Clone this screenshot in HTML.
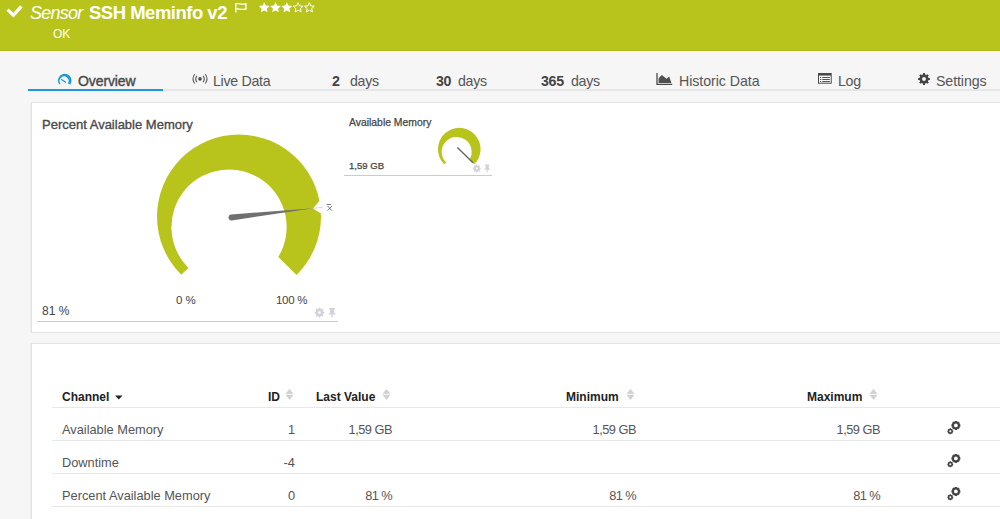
<!DOCTYPE html>
<html><head><meta charset="utf-8">
<style>
html,body{margin:0;padding:0;}
body{width:1000px;height:519px;overflow:hidden;position:relative;background:#f6f6f6;font-family:"Liberation Sans",sans-serif;}
.a{position:absolute;white-space:nowrap;}
#hdr{position:absolute;left:0;top:0;width:1000px;height:51px;background:#b8c41c;}
#hdr .bl{position:absolute;left:0;top:50px;width:1000px;height:1px;background:#aebb18;}
.tab{font-size:14.2px;color:#555;top:73px;letter-spacing:-0.3px;}
.tabb{font-weight:bold;color:#444;}
#tabline{position:absolute;left:28px;top:89px;width:972px;height:2px;background:#e6e6e6;}
#tabsel{position:absolute;left:28px;top:89px;width:135px;height:2px;background:#1a9ad6;}
.card{position:absolute;background:#fff;box-shadow:0 0 0 1px #e3e3e3,-2px 0 0 0 #ececec;}
.th{font-size:12px;font-weight:bold;color:#222;top:389.6px;}
.td{font-size:12.8px;color:#555;}
.r{text-align:right;}
.rl{position:absolute;left:52px;width:948px;height:1px;background:#e8e8e8;}
</style></head><body>
<div id="hdr"><div class="bl"></div>
  <svg class="a" style="left:6px;top:4px" width="18" height="15" viewBox="0 0 18 15"><path d="M1.6 5.6 L7.4 11.2 L15.4 2.4" fill="none" stroke="#fff" stroke-width="3.3"/></svg>
  <div class="a" style="left:30px;top:2.5px;font-size:18px;letter-spacing:-0.75px;font-style:italic;color:#fff;">Sensor</div>
  <div class="a" style="left:89px;top:2px;font-size:18.5px;letter-spacing:-0.5px;font-weight:bold;color:#fff;">SSH Meminfo v2</div>
  <svg class="a" style="left:0;top:0" width="330" height="20">
    <path d="M235.8 3 V12.6" stroke="#fff" stroke-width="1.4"/>
    <path d="M236 3.8 C239 2.8 241 5.2 246 3.8 V9 C241 10.4 239 8 236 9" fill="none" stroke="#fff" stroke-width="1.3"/>
    <polygon points="264.20,2.20 265.79,5.62 269.53,6.07 266.77,8.63 267.49,12.33 264.20,10.50 260.91,12.33 261.63,8.63 258.87,6.07 262.61,5.62" fill="#fff"/><polygon points="275.50,2.20 277.09,5.62 280.83,6.07 278.07,8.63 278.79,12.33 275.50,10.50 272.21,12.33 272.93,8.63 270.17,6.07 273.91,5.62" fill="#fff"/><polygon points="286.80,2.20 288.39,5.62 292.13,6.07 289.37,8.63 290.09,12.33 286.80,10.50 283.51,12.33 284.23,8.63 281.47,6.07 285.21,5.62" fill="#fff"/><polygon points="298.10,2.70 299.51,5.86 302.95,6.22 300.38,8.54 301.10,11.93 298.10,10.20 295.10,11.93 295.82,8.54 293.25,6.22 296.69,5.86" fill="none" stroke="#fff" stroke-width="1"/><polygon points="309.40,2.70 310.81,5.86 314.25,6.22 311.68,8.54 312.40,11.93 309.40,10.20 306.40,11.93 307.12,8.54 304.55,6.22 307.99,5.86" fill="none" stroke="#fff" stroke-width="1"/>
  </svg>
  <div class="a" style="left:53px;top:27px;font-size:12px;color:#fff;">OK</div>
</div>

<!-- tabs -->
<div id="tabline"></div><div id="tabsel"></div>
<svg class="a" style="left:0;top:0" width="100" height="100"><path d="M59.18 84.4 A6.8 6.8 0 1 1 70.32 84.4 L67.79 83.58 A4.5 4.5 0 1 0 60.41 83.58 Z" fill="#1a9ad6"/><path d="M61.2 79.2 L66 82.6" stroke="#1a9ad6" stroke-width="1.2"/></svg>
<div class="a tab" style="left:78px;font-size:14px;top:72.7px;letter-spacing:-0.1px;color:#4a4a4a;-webkit-text-stroke:0.4px #4a4a4a;">Overview</div>
<svg class="a" style="left:0;top:0" width="300" height="100"><circle cx="200" cy="78.9" r="1.8" fill="#4a4a4a"/><path d="M197 75.8 A5 5 0 0 0 197 82.2 M203 75.8 A5 5 0 0 1 203 82.2 M194.6 74.3 A8 8 0 0 0 194.6 83.5 M205.4 74.3 A8 8 0 0 1 205.4 83.5" fill="none" stroke="#555" stroke-width="1.1"/></svg>
<div class="a tab" style="left:213px;">Live Data</div>
<div class="a tab tabb" style="left:332px;">2</div><div class="a tab" style="left:350px;">days</div>
<div class="a tab tabb" style="left:436px;">30</div><div class="a tab" style="left:458px;">days</div>
<div class="a tab tabb" style="left:541px;">365</div><div class="a tab" style="left:571px;">days</div>
<svg class="a" style="left:0;top:0" width="700" height="100"><path d="M657 73 V84.4 H672.2" fill="none" stroke="#4a4a4a" stroke-width="1.3"/><path d="M658.6 83 V78.3 L661.9 74.9 L666.5 78.8 L669.2 76.6 L671.4 83 Z" fill="#505050"/></svg>
<div class="a tab" style="left:679px;letter-spacing:-0.05px;">Historic Data</div>
<svg class="a" style="left:0;top:0" width="900" height="100"><rect x="818" y="73" width="13.7" height="10.7" fill="#4a4a4a"/><rect x="819" y="75.6" width="11.7" height="7.1" fill="#fafafa"/><path d="M820 77.5 H821.2 M822.2 77.5 H829.8 M820 79.5 H821.2 M822.2 79.5 H829.8 M820 81.5 H821.2 M822.2 81.5 H829.8" stroke="#555" stroke-width="1"/></svg>
<div class="a tab" style="left:838px;">Log</div>
<svg class="a" style="left:0;top:0" width="1000" height="100"><path d="M922.92 74.53 L923.10 73.07 L924.90 73.07 L925.08 74.53 L926.40 75.07 L927.56 74.17 L928.83 75.44 L927.93 76.60 L928.47 77.92 L929.93 78.10 L929.93 79.90 L928.47 80.08 L927.93 81.40 L928.83 82.56 L927.56 83.83 L926.40 82.93 L925.08 83.47 L924.90 84.93 L923.10 84.93 L922.92 83.47 L921.60 82.93 L920.44 83.83 L919.17 82.56 L920.07 81.40 L919.53 80.08 L918.07 79.90 L918.07 78.10 L919.53 77.92 L920.07 76.60 L919.17 75.44 L920.44 74.17 L921.60 75.07 Z M925.90 79.00 A1.9 1.9 0 1 0 922.10 79.00 A1.9 1.9 0 1 0 925.90 79.00 Z" fill="#444" fill-rule="evenodd"/></svg>
<div class="a tab" style="left:936px;letter-spacing:-0.1px;">Settings</div>

<!-- card 1 -->
<div class="card" style="left:32px;top:103px;width:980px;height:229px;"></div>
<div class="a" style="left:42px;top:116.5px;font-size:13px;-webkit-text-stroke:0.35px #4a4a4a;color:#4a4a4a;">Percent Available Memory</div>
<svg class="a" style="left:0;top:0" width="1000" height="340">
  <defs>
    <g id="gauge">
      <path d="M181.2 274.7 A82 82 0 1 1 296.6 274.9 L278.3 256.9 A57.6 57.6 0 1 0 188.4 267.9 Z" fill="#b8c41c"/>
    </g>
  </defs>
  <use href="#gauge"/>
  <polygon points="319.5,200.8 313,208.5 320.9,213.5 326,213.5 326,200.8" fill="#fff"/>
  <line x1="313" y1="208.4" x2="322.5" y2="207.3" stroke="#d8d8d8" stroke-width="1"/>
  <path d="M231.07 214.42 L313.5 208.3 L231.73 220.38 A3 3 0 0 1 231.07 214.42 Z" fill="#707070"/>
  <path d="M326.5 204.5 H331 M327.5 206 L332 210.7 M332 206 L327.5 210.7" stroke="#6a6a7a" stroke-width="0.9"/>
  <g transform="translate(459.25,149.25) scale(0.26) translate(-238.95,-216.8)"><use href="#gauge"/></g>
  <line x1="457.4" y1="147.4" x2="473" y2="162.7" stroke="#666" stroke-width="1.4"/>
  <path d="M318.53 308.81 L318.70 307.66 L320.20 307.66 L320.37 308.81 L321.48 309.27 L322.41 308.57 L323.48 309.64 L322.78 310.57 L323.24 311.68 L324.39 311.85 L324.39 313.35 L323.24 313.52 L322.78 314.63 L323.48 315.56 L322.41 316.63 L321.48 315.93 L320.37 316.39 L320.20 317.54 L318.70 317.54 L318.53 316.39 L317.42 315.93 L316.49 316.63 L315.42 315.56 L316.12 314.63 L315.66 313.52 L314.51 313.35 L314.51 311.85 L315.66 311.68 L316.12 310.57 L315.42 309.64 L316.49 308.57 L317.42 309.27 Z M320.85 312.60 A1.4 1.4 0 1 0 318.05 312.60 A1.4 1.4 0 1 0 320.85 312.60 Z" fill="#d2d2d8" fill-rule="evenodd"/><path d="M329.10 308.00 H335.10 V309.40 H334.10 V312.20 L335.90 314.50 H332.70 V317.70 H331.50 V314.50 H328.30 L330.10 312.20 V309.40 H329.10 Z" fill="#d2d2d8"/><path d="M476.07 165.49 L476.20 164.55 L477.40 164.55 L477.53 165.49 L478.41 165.85 L479.17 165.28 L480.02 166.13 L479.45 166.89 L479.81 167.77 L480.75 167.90 L480.75 169.10 L479.81 169.23 L479.45 170.11 L480.02 170.87 L479.17 171.72 L478.41 171.15 L477.53 171.51 L477.40 172.45 L476.20 172.45 L476.07 171.51 L475.19 171.15 L474.43 171.72 L473.58 170.87 L474.15 170.11 L473.79 169.23 L472.85 169.10 L472.85 167.90 L473.79 167.77 L474.15 166.89 L473.58 166.13 L474.43 165.28 L475.19 165.85 Z M477.90 168.50 A1.1 1.1 0 1 0 475.70 168.50 A1.1 1.1 0 1 0 477.90 168.50 Z" fill="#d2d2d8" fill-rule="evenodd"/><path d="M484.80 164.50 H489.60 V165.62 H488.80 V167.86 L490.24 169.70 H487.68 V172.26 H486.72 V169.70 H484.16 L485.60 167.86 V165.62 H484.80 Z" fill="#d2d2d8"/>
</svg>
<div class="a" style="left:42px;top:303.5px;font-size:12px;color:#444;">81 %</div>
<div class="a" style="left:176px;top:294px;font-size:11.5px;color:#444;">0 %</div>
<div class="a" style="left:276px;top:294px;font-size:11.5px;letter-spacing:-0.3px;color:#444;">100 %</div>
<div class="a" style="left:37px;top:321px;width:301px;height:1px;background:#ccc;"></div>

<div class="a" style="left:349px;top:117px;font-size:10.4px;color:#444;-webkit-text-stroke:0.25px #444;">Available Memory</div>
<div class="a" style="left:349px;top:159.5px;font-size:9.6px;color:#444;-webkit-text-stroke:0.25px #444;">1,59 GB</div>
<div class="a" style="left:344px;top:175px;width:148px;height:1px;background:#ccc;"></div>

<!-- card 2 -->
<div class="card" style="left:32px;top:344px;width:980px;height:200px;"></div>
<div class="a th" style="left:62px;">Channel</div>
<svg class="a" style="left:115px;top:395px" width="8" height="5"><polygon points="0,0.5 7.5,0.5 3.75,4.5" fill="#222"/></svg>
<div class="a th" style="left:268px;">ID</div>
<div class="a th" style="left:316px;">Last Value</div>
<div class="a th" style="left:566px;">Minimum</div>
<div class="a th" style="left:807px;">Maximum</div>
<svg class="a" style="left:284.8px;top:388px" width="9" height="13"><polygon points="0.5,5.8 8.5,5.8 4.5,0.9" fill="#d0d0d0"/><polygon points="0.5,6.7 8.5,6.7 4.5,12" fill="#d0d0d0"/></svg><svg class="a" style="left:381.6px;top:388px" width="9" height="13"><polygon points="0.5,5.8 8.5,5.8 4.5,0.9" fill="#d0d0d0"/><polygon points="0.5,6.7 8.5,6.7 4.5,12" fill="#d0d0d0"/></svg><svg class="a" style="left:625.7px;top:388px" width="9" height="13"><polygon points="0.5,5.8 8.5,5.8 4.5,0.9" fill="#d0d0d0"/><polygon points="0.5,6.7 8.5,6.7 4.5,12" fill="#d0d0d0"/></svg><svg class="a" style="left:869.4px;top:388px" width="9" height="13"><polygon points="0.5,5.8 8.5,5.8 4.5,0.9" fill="#d0d0d0"/><polygon points="0.5,6.7 8.5,6.7 4.5,12" fill="#d0d0d0"/></svg>
<div class="rl" style="top:407px;"></div>
<div class="a td" style="left:62px;top:422px;">Available Memory</div>
<div class="a td r" style="right:705px;top:422px;">1</div>
<div class="a td r" style="right:608px;top:422px;;letter-spacing:-0.5px">1,59 GB</div>
<div class="a td r" style="right:364px;top:422px;;letter-spacing:-0.5px">1,59 GB</div>
<div class="a td r" style="right:120px;top:422px;;letter-spacing:-0.5px">1,59 GB</div>
<div class="rl" style="top:440px;"></div>
<div class="a td" style="left:62px;top:455px;">Downtime</div>
<div class="a td r" style="right:705px;top:455px;">-4</div>
<div class="rl" style="top:473px;"></div>
<div class="a td" style="left:62px;top:488px;">Percent Available Memory</div>
<div class="a td r" style="right:705px;top:488px;">0</div>
<div class="a td r" style="right:608px;top:488px;;letter-spacing:-0.6px">81 %</div>
<div class="a td r" style="right:364px;top:488px;;letter-spacing:-0.6px">81 %</div>
<div class="a td r" style="right:120px;top:488px;;letter-spacing:-0.6px">81 %</div>
<div class="rl" style="top:506px;"></div>
<svg class="a" style="left:0;top:0" width="1000" height="519">
  <defs>
    <g id="gears"><path d="M954.55 421.64 L954.90 420.91 L956.90 420.91 L957.25 421.64 L957.60 421.78 L958.36 421.52 L959.78 422.94 L959.52 423.70 L959.66 424.05 L960.39 424.40 L960.39 426.40 L959.66 426.75 L959.52 427.10 L959.78 427.86 L958.36 429.28 L957.60 429.02 L957.25 429.16 L956.90 429.89 L954.90 429.89 L954.55 429.16 L954.20 429.02 L953.44 429.28 L952.02 427.86 L952.28 427.10 L952.14 426.75 L951.41 426.40 L951.41 424.40 L952.14 424.05 L952.28 423.70 L952.02 422.94 L953.44 421.52 L954.20 421.78 Z M957.80 425.40 A1.9 1.9 0 1 0 954.00 425.40 A1.9 1.9 0 1 0 957.80 425.40 Z" fill="#444" fill-rule="evenodd"/><path d="M949.45 428.95 L949.65 428.37 L950.95 428.37 L951.15 428.95 L951.36 429.04 L951.91 428.77 L952.83 429.69 L952.56 430.24 L952.65 430.45 L953.23 430.65 L953.23 431.95 L952.65 432.15 L952.56 432.36 L952.83 432.91 L951.91 433.83 L951.36 433.56 L951.15 433.65 L950.95 434.23 L949.65 434.23 L949.45 433.65 L949.24 433.56 L948.69 433.83 L947.77 432.91 L948.04 432.36 L947.95 432.15 L947.37 431.95 L947.37 430.65 L947.95 430.45 L948.04 430.24 L947.77 429.69 L948.69 428.77 L949.24 429.04 Z M951.30 431.30 A1.0 1.0 0 1 0 949.30 431.30 A1.0 1.0 0 1 0 951.30 431.30 Z" fill="#444" fill-rule="evenodd"/></g>
  </defs>
  <use href="#gears"/>
  <use href="#gears" y="33"/>
  <use href="#gears" y="66"/>
</svg>
</body></html>
